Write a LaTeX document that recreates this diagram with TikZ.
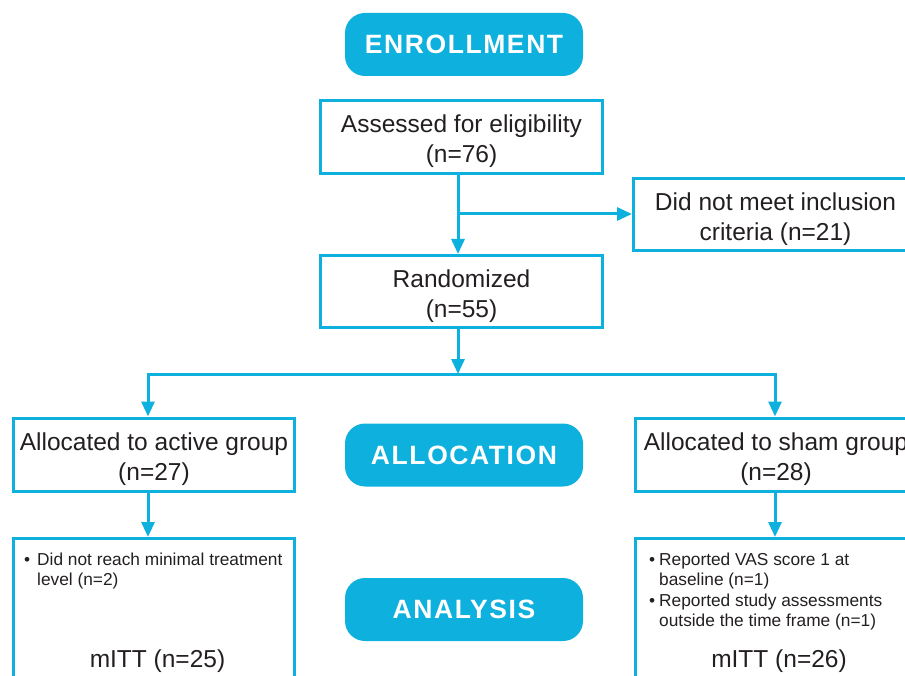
\documentclass[tikz,border=0pt]{standalone}
\usepackage{fontspec}
\setmainfont{Liberation Sans}
\newfontfamily\pillfont[LetterSpace=6]{Liberation Sans}
\usetikzlibrary{arrows.meta}
\definecolor{cy}{RGB}{14,176,222}
\definecolor{ink}{RGB}{35,31,32}
\tikzset{
  pill/.style={fill=cy, rounded corners=20pt, minimum width=238pt, minimum height=63pt,
    inner sep=0pt, text=white, font=\pillfont\bfseries\fontsize{26.5}{30}\selectfont},
  fbox/.style={draw=cy, line width=3pt, inner sep=0pt, align=center, text=ink,
    text height=52pt, text depth=0pt,
    font=\fontsize{24.5}{30}\selectfont},
  bigbox/.style={draw=cy, line width=3pt, inner sep=0pt},
  bul/.style={inner sep=0pt, align=left, text=ink, font=\fontsize{17.3}{20.5}\selectfont},
  mitt/.style={inner sep=0pt, text=ink, font=\fontsize{24.5}{30}\selectfont},
  arr/.style={draw=cy, line width=3pt, -{Triangle[length=15pt,width=13pt]}}
}
\begin{document}
\begin{tikzpicture}[x=1pt,y=-1pt]
\useasboundingbox (0,0) rectangle (905,676);
\clip (0,0) rectangle (905,676);
% phase pills
\node[pill] (enr) at (464,44.5) {ENROLLMENT};
\node[pill] (alo) at (464,455) {ALLOCATION};
\node[pill] (ana) at (464,609.5) {ANALYSIS};
% boxes
\node[fbox, minimum width=282pt, minimum height=73pt] (ass) at (461.5,137) {Assessed for eligibility\\(n=76)};
\node[fbox, minimum width=284pt, minimum height=72pt] (dnm) at (775.5,214.5) {Did not meet inclusion\\criteria (n=21)};
\node[fbox, minimum width=282pt, minimum height=72pt] (ran) at (461.5,291.5) {Randomized\\(n=55)};
\node[fbox, minimum width=281pt, minimum height=73.5pt] (act) at (154,454.75) {Allocated to active group\\(n=27)};
\node[fbox, minimum width=281pt, minimum height=73.5pt] (sha) at (776,454.75) {Allocated to sham group\\(n=28)};
\node[bigbox, minimum width=281pt, minimum height=180pt] (actb) at (154,628.5) {};
\node[bigbox, minimum width=281pt, minimum height=180pt] (shab) at (776,628.5) {};
% bottom box texts
\node[bul, anchor=north west] (lb1) at (24,552.5) {\makebox[13pt][l]{•}Did not reach minimal treatment\\\hspace*{13pt}level (n=2)};
\node[bul, anchor=north west] (rb1) at (649,552.5) {\makebox[10pt][l]{•}Reported VAS score 1 at\\\hspace*{10pt}baseline (n=1)};
\node[bul, anchor=north west] (rb2) at (649,593.5) {\makebox[10pt][l]{•}Reported study assessments\\\hspace*{10pt}outside the time frame (n=1)};
\node[mitt, anchor=base] (lm) at (157.5,667) {mITT (n=25)};
\node[mitt, anchor=base] (rm) at (779,667) {mITT (n=26)};
% connectors
\coordinate (j1) at (458,214);
\coordinate (j2) at (458,374);
\coordinate (L) at (148,374);
\coordinate (R) at (775,374);
\draw[arr] (ass.south -| j1) -- (ran.north -| j1);
\draw[arr] (j1) -- (dnm.west |- j1);
\draw[arr] (ran.south -| j2) -- (j2);
\draw[arr] (R) -- (L) -- (act.north -| L);
\draw[arr] (L) -- (R) -- (sha.north -| R);
\draw[arr] (act.south -| L) -- (actb.north -| L);
\draw[arr] (sha.south -| R) -- (shab.north -| R);
\end{tikzpicture}
\end{document}
